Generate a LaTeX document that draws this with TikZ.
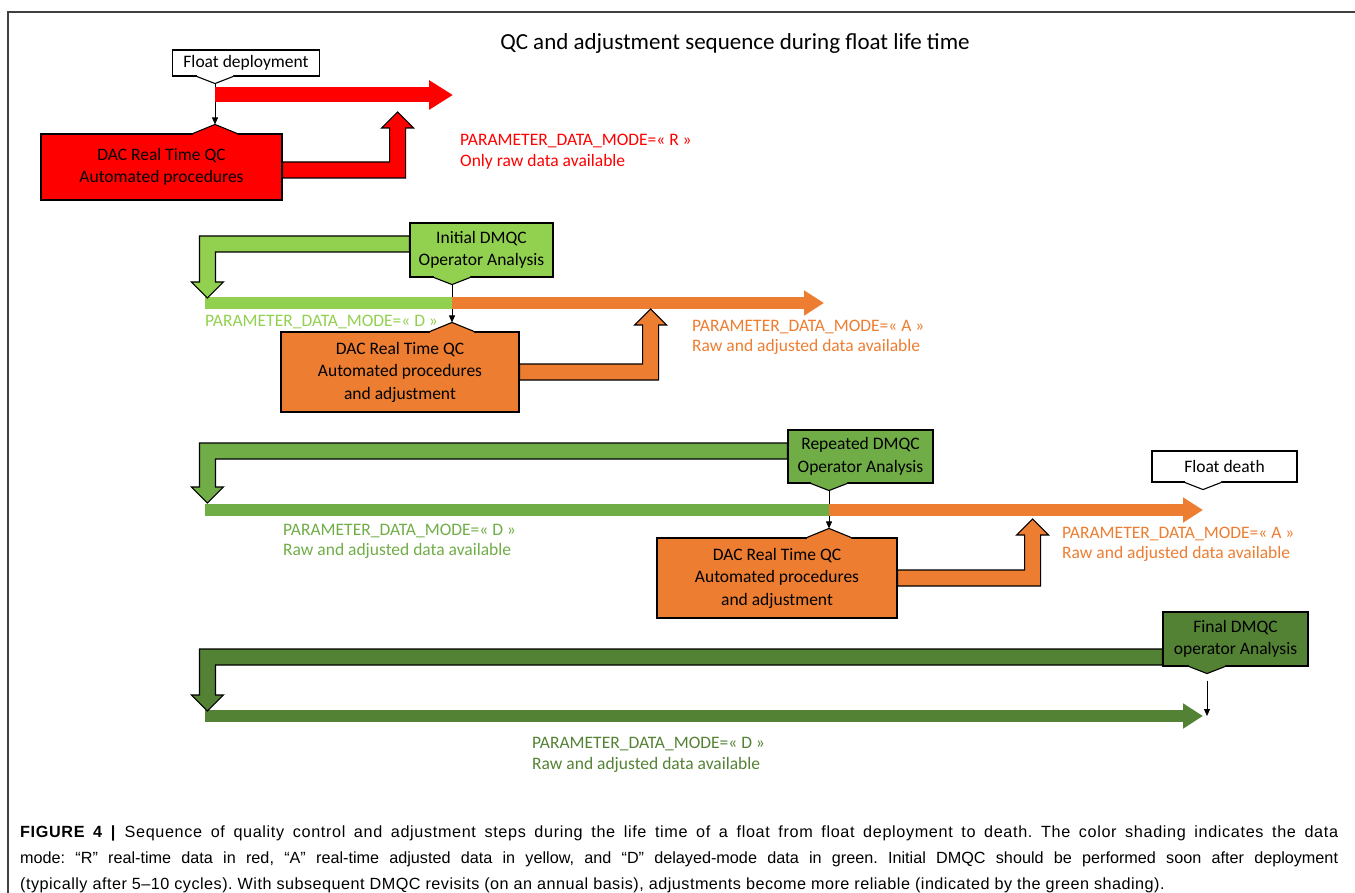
\documentclass[tikz,border=0pt]{standalone}
\usepackage{fontspec}
\setmainfont{Carlito}
\newfontfamily\capfont{Liberation Sans}
\usetikzlibrary{arrows.meta,positioning,calc}

\definecolor{cred}{HTML}{FF0000}
\definecolor{clgreen}{HTML}{92D050}
\definecolor{corange}{HTML}{ED7D31}
\definecolor{cgreen}{HTML}{70AD47}
\definecolor{cdgreen}{HTML}{548235}

\newcommand{\dfont}{\fontsize{17.5}{22.5}\selectfont}
\newcommand{\lfont}{\fontsize{17.5}{20.5}\selectfont}

% small wedge under / over a box
\newcommand{\notchdown}[4]{%
  \fill[#3] ([xshift=#2-18pt,yshift=2pt]#1) -- ([xshift=#2-18pt]#1) -- ([xshift=#2,yshift=-7pt]#1)
     -- ([xshift=#2+18pt]#1) -- ([xshift=#2+18pt,yshift=2pt]#1) -- cycle;
  \draw[line width=1.1pt] ([xshift=#2-18pt]#1) -- ([xshift=#2,yshift=-7pt]#1) -- ([xshift=#2+18pt]#1);
  \coordinate (#4) at ([xshift=#2,yshift=-7pt]#1);}
\newcommand{\notchup}[4]{%
  \fill[#3] ([xshift=#2-22pt,yshift=-2pt]#1) -- ([xshift=#2-22pt]#1) -- ([xshift=#2,yshift=9pt]#1)
     -- ([xshift=#2+22pt]#1) -- ([xshift=#2+22pt,yshift=-2pt]#1) -- cycle;
  \draw[line width=1.1pt] ([xshift=#2-22pt]#1) -- ([xshift=#2,yshift=9pt]#1) -- ([xshift=#2+22pt]#1);
  \coordinate (#4) at ([xshift=#2,yshift=9pt]#1);}

\begin{document}
\begin{tikzpicture}[x=1pt,y=-1pt]
\tikzset{box/.style={draw, line width=1.1pt, inner sep=0pt, align=center, font=\dfont},
  bar/.style={line width=12pt},
  fat/.style={draw, line width=1.1pt, line join=miter},
  leader/.style={line width=0.8pt, -{Triangle[length=7pt,width=6pt]}},
  lbl/.style={anchor=west, align=left, inner sep=0pt, font=\lfont}}
\useasboundingbox (0,0) rectangle (1355,893);
\draw[line width=1.5pt, black!75] (8,893) -- (8,12) -- (1355,12);

\node[font=\fontsize{23}{27}\selectfont] (title) at (735,43) {QC and adjustment sequence during float life time};

% boxes
\node[box, fill=white, minimum width=147, minimum height=26] (deploy) at (246,63) {Float deployment};
\node[box, fill=cred, minimum width=241, minimum height=66] (dacr) at (161.5,167) {DAC Real Time QC\\Automated procedures};
\node[box, fill=clgreen, minimum width=143, minimum height=54] (dmqc1) at (481.5,250) {Initial DMQC\\Operator Analysis};
\node[box, fill=corange, minimum width=238, minimum height=80] (daco1) at (400,372) {DAC Real Time QC\\Automated procedures\\and adjustment};
\node[box, fill=cgreen, minimum width=145, minimum height=53] (dmqc2) at (860.5,456.5) {Repeated DMQC\\Operator Analysis};
\node[box, fill=corange, minimum width=240, minimum height=80] (daco2) at (777,578) {DAC Real Time QC\\Automated procedures\\and adjustment};
\node[box, fill=white, minimum width=145, minimum height=31] (death) at (1224.5,466.5) {Float death};
\node[box, fill=cdgreen, minimum width=145, minimum height=54] (dmqc3) at (1235.5,639) {Final DMQC\\operator Analysis};

\notchdown{deploy.south}{-31pt}{white}{deployn}
\notchup{dacr.north}{53.5pt}{cred}{dacrn}
\notchdown{dmqc1.south}{-29.5pt}{clgreen}{dmqc1n}
\notchup{daco1.north}{52pt}{corange}{daco1n}
\notchdown{dmqc2.south}{-31.5pt}{cgreen}{dmqc2n}
\notchup{daco2.north}{52pt}{corange}{daco2n}
\notchdown{death.south}{-21.5pt}{white}{deathn}
\notchdown{dmqc3.south}{-28.5pt}{cdgreen}{dmqc3n}

% data mode bars
\coordinate (r1) at (453,95);
\coordinate (d1) at (205,303);
\coordinate (a1) at (824,303);
\coordinate (d2) at (205,510);
\coordinate (a2) at (1203,510);
\coordinate (d3) at (205,716);
\coordinate (e3) at (1203,716);

\draw[leader] (deployn) -- (dacrn);
\draw[leader] (dmqc1n) -- (daco1n);
\draw[leader] (dmqc2n) -- (daco2n);
\draw[leader, shorten <=7pt] (dmqc3n) -- (dmqc3n |- e3);

\draw[bar, line width=15pt, cred, -{Triangle[length=24pt,width=28pt]}] (deployn |- r1) -- (r1);
\draw[bar, clgreen] (d1) -- (dmqc1n |- d1);
\draw[bar, corange, -{Triangle[length=20pt,width=24pt]}] (dmqc1n |- d1) -- (a1);
\draw[bar, cgreen] (d2) -- (dmqc2n |- d2);
\draw[bar, corange, -{Triangle[length=20pt,width=24pt]}] (dmqc2n |- d2) -- (a2);
\draw[bar, cdgreen, -{Triangle[length=20pt,width=24pt]}] (d3) -- (e3);

% bent arrows
\draw[fat, fill=cred] ([yshift=5pt]dacr.east) -- ++(107,0) -- ++(0,-34) -- ++(-8,0) -- ++(16,-16)
  -- ++(16,16) -- ++(-8,0) -- ++(0,50) -- ++(-123,0) -- cycle;
\draw[fat, fill=corange] ([yshift=8pt]daco1.east) -- ++(123,0) -- ++(0,-39) -- ++(-8,0) -- ++(16,-16)
  -- ++(16,16) -- ++(-8,0) -- ++(0,55) -- ++(-139,0) -- cycle;
\draw[fat, fill=corange] ([yshift=8pt]daco2.east) -- ++(127,0) -- ++(0,-35) -- ++(-8,0) -- ++(16,-16)
  -- ++(16,16) -- ++(-8,0) -- ++(0,51) -- ++(-143,0) -- cycle;
\draw[fat, fill=clgreen] ([yshift=14pt]dmqc1.west) -- ++(-210,0) -- ++(0,46) -- ++(-8,0) -- ++(16,16)
  -- ++(16,-16) -- ++(-8,0) -- ++(0,-30) -- ++(194,0) -- cycle;
\draw[fat, fill=cgreen] ([yshift=13.5pt]dmqc2.west) -- ++(-588,0) -- ++(0,44) -- ++(-8,0) -- ++(16,16)
  -- ++(16,-16) -- ++(-8,0) -- ++(0,-28) -- ++(572,0) -- cycle;
\draw[fat, fill=cdgreen] ([yshift=-10pt]dmqc3.west) -- ++(-963,0) -- ++(0,46) -- ++(-8,0) -- ++(16,16)
  -- ++(16,-16) -- ++(-8,0) -- ++(0,-30) -- ++(947,0) -- cycle;

% labels
\node[lbl, text=cred] (lblr) at (460,151.5) {PARAMETER\_DATA\_MODE=« R »\\Only raw data available};
\node[lbl, text=clgreen] (lbld1) at (205,322) {PARAMETER\_DATA\_MODE=« D »};
\node[lbl, text=corange] (lbla1) at (692,337.5) {PARAMETER\_DATA\_MODE=« A »\\Raw and adjusted data available};
\node[lbl, text=cgreen] (lbld2) at (283,541.5) {PARAMETER\_DATA\_MODE=« D »\\Raw and adjusted data available};
\node[lbl, text=corange] (lbla2) at (1062,544.5) {PARAMETER\_DATA\_MODE=« A »\\Raw and adjusted data available};
\node[lbl, text=cdgreen] (lbld3) at (532,755) {PARAMETER\_DATA\_MODE=« D »\\Raw and adjusted data available};

\node[anchor=north west, inner sep=0pt, align=left, font=\capfont\fontsize{16.2}{26}\selectfont\frenchspacing] (caption) at (20,826)
{\makebox[1318pt][s]{\addfontfeature{LetterSpace=4}\textbf{FIGURE 4 |} Sequence of quality control and adjustment steps during the life time of a float from float deployment to death. The color shading indicates the data}\\
\makebox[1318pt][s]{mode: “R” real-time data in red, “A” real-time adjusted data in yellow, and “D” delayed-mode data in green. Initial DMQC should be performed soon after deployment}\\
{\addfontfeature{LetterSpace=3}(typically after 5–10 cycles). With subsequent DMQC revisits (on an annual basis), adjustments become more reliable (indicated by the green shading).}};
\end{tikzpicture}
\end{document}
